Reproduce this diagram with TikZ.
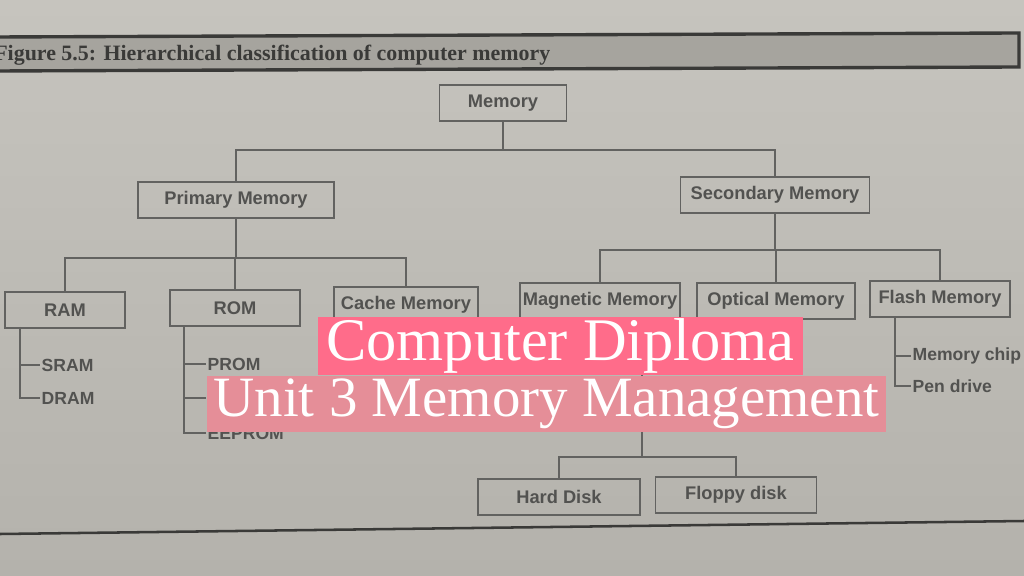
\documentclass[tikz,border=0pt]{standalone}
\usepackage{fontspec}
\setmainfont{Liberation Serif}
\setsansfont{Liberation Sans}
\usepackage{xcolor}
\usepackage{tikz}
\usetikzlibrary{positioning,calc}

\definecolor{paperhi}{RGB}{198,196,190}
\definecolor{paperlo}{RGB}{180,178,172}
\definecolor{barfill}{RGB}{166,164,158}
\definecolor{barline}{RGB}{58,58,56}
\definecolor{inkgray}{RGB}{82,82,80}
\definecolor{boxgray}{RGB}{98,98,96}
\definecolor{pinkhot}{RGB}{255,108,138}
\definecolor{pinksoft}{RGB}{229,142,152}

\begin{document}
\begin{tikzpicture}[
    x=0.025cm, y=-0.025cm,
    membox/.style={draw=boxgray, line width=1.3pt, text=inkgray, font=\sffamily\bfseries\fontsize{13}{15}\selectfont, minimum height=0.88cm, inner sep=2pt},
    bw/.style={minimum width=#1*0.025cm},
    leaf/.style={anchor=west, text=inkgray, font=\sffamily\bfseries\fontsize{12.5}{14}\selectfont, inner sep=1pt},
    link/.style={draw=boxgray, line width=1.3pt},
    banner/.style={text=white, inner sep=0pt},
  ]
  \useasboundingbox (0,0) rectangle (1024,576);
  \clip (0,0) rectangle (1024,576);

  % Page
  \shade[top color=paperhi, bottom color=paperlo] (0,0) rectangle (1024,576);
  \fill[barfill] (-5,37) -- (1019,33) -- (1019,67) -- (-5,71) -- cycle;
  \draw[barline, line width=2.4pt] (-5,37) -- (1019,33) -- (1019,67) -- (-5,71);
  \node[anchor=west, text=barline, font=\bfseries\fontsize{15.6}{18}\selectfont, inner sep=0pt] (title) at (-6,55) {Figure 5.5: Hierarchical classification of computer memory};
  \draw[barline, line width=1.8pt] (0,534) -- (1024,521);

  % Root
  \node[membox, bw=127] (mem) at (503,103) {Memory};

  % Level 1
  \node[membox, bw=196] (prim) at (236,200) {Primary Memory};
  \node[membox, bw=189] (sec) at (775,195) {Secondary Memory};

  % Level 2
  \node[membox, bw=120] (ram) at (65,310) {RAM};
  \node[membox, bw=130] (rom) at (235,308) {ROM};
  \node[membox, bw=144] (cache) at (406,305) {Cache Memory};
  \node[membox, bw=160] (mag) at (600,301) {Magnetic Memory};
  \node[membox, bw=158] (opt) at (776,301) {Optical Memory};
  \node[membox, bw=140] (flash) at (940,299) {Flash Memory};

  % Level 3 (under mag)
  \node[membox, bw=162] (hard) at (559,497) {Hard Disk};
  \node[membox, bw=161] (floppy) at (736,495) {Floppy disk};

  % Leaves
  \node[leaf] (sram) at (40,365) {SRAM};
  \node[leaf] (dram) at (40,398) {DRAM};
  \node[leaf] (prom) at (206,364) {PROM};
  \coordinate (eprom) at (206,398);
  \node[leaf] (eeprom) at (206,433) {EEPROM};
  \node[leaf] (chip) at (911,356) {Memory chip};
  \node[leaf] (pen) at (911,386) {Pen drive};

  % Edges
  \coordinate (j1) at (503,150);
  \coordinate (j2) at (236,258);
  \coordinate (j3) at (775,250);
  \coordinate (j4) at (642,457);
  \draw[link] (mem) -- (j1);
  \draw[link] (prim) |- (j1) -| (sec);
  \draw[link] (prim) -- (j2);
  \draw[link] (ram) |- (j2) -| (cache);
  \draw[link] (rom) -- (rom |- j2);
  \draw[link] (sec) -- (j3);
  \draw[link] (mag) |- (j3) -| (flash);
  \draw[link] (opt) -- (opt |- j3);
  \draw[link] (mag.south -| j4) -- (j4);
  \draw[link] (hard) |- (j4) -| (floppy);

  % Lists
  \coordinate (ramrail) at (20,327);
  \coordinate (romrail) at (184,326);
  \coordinate (flashrail) at (895,317);
  \draw[link] (ramrail) |- (dram.west);
  \draw[link] (ramrail |- sram.west) -- (sram.west);
  \draw[link] (romrail) |- (eeprom.west);
  \draw[link] (romrail |- prom.west) -- (prom.west);
  \draw[link] (romrail |- eprom) -- (eprom);
  \draw[link] (flashrail) |- (pen.west);
  \draw[link] (flashrail |- chip.west) -- (chip.west);

  % Banners
  \node[banner, fill=pinkhot, minimum width=12.125cm, minimum height=1.45cm, font=\fontsize{43}{50}\selectfont] (ban1) at (560.5,346) {Computer Diploma};
  \node[banner, fill=pinksoft, minimum width=16.975cm, minimum height=1.4cm, font=\fontsize{40.5}{48}\selectfont] (ban2) at (546.5,404) {Unit 3 Memory Management};
\end{tikzpicture}
\end{document}
